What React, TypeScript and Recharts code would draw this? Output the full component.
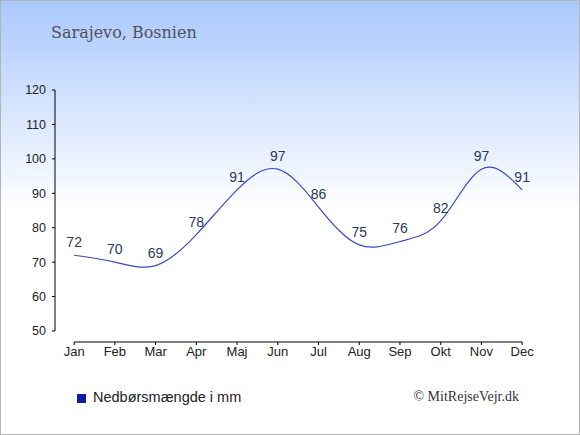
import React from 'react'
import { LineChart, Line, XAxis, YAxis, ReferenceLine, LabelList } from 'recharts'

const months = ['Jan', 'Feb', 'Mar', 'Apr', 'Maj', 'Jun', 'Jul', 'Aug', 'Sep', 'Okt', 'Nov', 'Dec']
const precipitation = [72, 70, 69, 78, 91, 97, 86, 75, 76, 82, 97, 91]
const yTicks = [50, 60, 70, 80, 90, 100, 110, 120]
const monthTicks = months.map((_, i) => i)

const title = 'Sarajevo, Bosnien'
const legendLabel = 'Nedbørsmængde i mm'
const credit = '© MitRejseVejr.dk'

const W = 580
const H = 435
// x domain leaves room between the y axis and Jan, y floor sits a bit under 50
const xDomain: [number, number] = [-0.47, 11.07]
const yDomain: [number, number] = [46.8, 120]

const sans = '"Liberation Sans", Arial, sans-serif'
const serif = '"DejaVu Serif", serif'

const data = months.map((month, idx) => ({ idx, month, value: precipitation[idx] }))

export default function App() {
  return (
    <div
      style={{
        position: 'absolute',
        left: 0,
        top: 0,
        width: W,
        height: H,
        background: 'linear-gradient(to bottom, #a9c8fd 0%, #ffffff 48%, #ffffff 100%)',
        boxShadow: 'inset 0 0 0 1px #b4b4b4',
      }}
    >
      <LineChart width={W} height={H} data={data} margin={{ top: 90, right: 55, bottom: 68, left: 0 }}>
        <XAxis
          type="number"
          dataKey="idx"
          domain={xDomain}
          ticks={monthTicks}
          interval={0}
          allowDataOverflow
          tickFormatter={(i: number) => months[i]}
          axisLine={false}
          tickLine={{ stroke: '#000' }}
          tickSize={3}
          tickMargin={2}
          height={25}
          tick={{ fill: '#222', fontSize: 13, fontFamily: sans }}
        />
        <YAxis
          type="number"
          domain={yDomain}
          ticks={yTicks}
          interval={0}
          allowDataOverflow
          axisLine={false}
          tickLine={{ stroke: '#000' }}
          tickSize={3}
          tickMargin={6}
          width={55}
          tick={{ fill: '#222', fontSize: 12.5, fontFamily: sans }}
        />
        <ReferenceLine
          segment={[
            { x: xDomain[0], y: yTicks[0] },
            { x: xDomain[0], y: yTicks[yTicks.length - 1] },
          ]}
          stroke="#000"
          strokeWidth={1}
        />
        <ReferenceLine
          segment={[
            { x: 0, y: yDomain[0] },
            { x: months.length - 1, y: yDomain[0] },
          ]}
          stroke="#000"
          strokeWidth={1}
        />
        <Line
          type="natural"
          dataKey="value"
          stroke="#3a48c8"
          strokeWidth={1.2}
          dot={false}
          activeDot={false}
          isAnimationActive={false}
        >
          <LabelList dataKey="value" position="top" offset={8} fill="#2a3a58" fontSize={14} fontFamily={sans} />
        </Line>
      </LineChart>
      <svg width={W} height={H} style={{ position: 'absolute', left: 0, top: 0, pointerEvents: 'none' }}>
        <text x={51} y={38} fontFamily={serif} fontSize={16} fill="#50505a">
          {title}
        </text>
        <rect x={77} y={394} width={9} height={9} fill="#0c1caa" />
        <text x={93} y={402} fontFamily={sans} fontSize={14.5} fill="#222">
          {legendLabel}
        </text>
        <text x={519} y={401} textAnchor="end" fontFamily='"Liberation Serif", serif' fontSize={14} fill="#333">
          {credit}
        </text>
      </svg>
    </div>
  )
}
